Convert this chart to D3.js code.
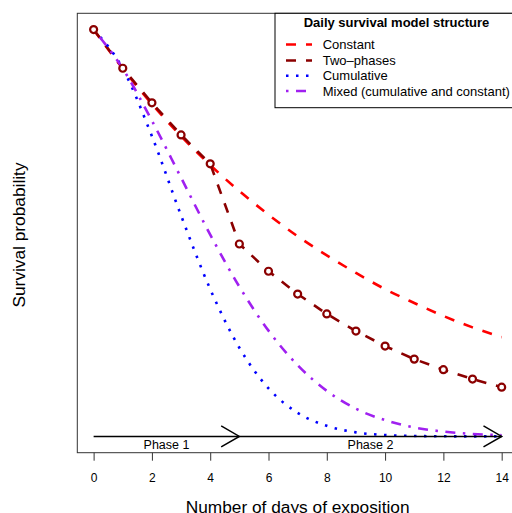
<!DOCTYPE html>
<html>
<head>
  <meta charset="utf-8">
  <title>Daily survival models</title>
  <script src="https://cdn.jsdelivr.net/npm/d3@7"></script>
  <style>
    body {margin: 0; background: #fff;}
    svg  {font-family: "Liberation Sans", Arial, sans-serif; display: block;}
  </style>
</head>
<body>
  <svg id="chart" width="512" height="513"></svg>

  <script>
    // values (survival probability per day)
    var days = [0, 1, 2, 3, 4, 5, 6, 7, 8, 9, 10, 11, 12, 13, 14];
    var constant   = [1, 0.904, 0.817, 0.738, 0.667, 0.603, 0.545, 0.492, 0.445, 0.402, 0.362, 0.328, 0.296, 0.268, 0.244];
    var twoPhases  = [1, 0.905, 0.820, 0.741, 0.670, 0.473, 0.406, 0.350, 0.301, 0.259, 0.222, 0.190, 0.164, 0.141, 0.121];
    var cumulative = [1, 0.904, 0.738, 0.543, 0.362, 0.218, 0.118, 0.058, 0.026, 0.010, 0.0035, 0.0011, 0.0003, 0.0001, 0];
    var mixed      = [1, 0.904, 0.776, 0.636, 0.496, 0.368, 0.260, 0.175, 0.112, 0.068, 0.040, 0.022, 0.012, 0.006, 0.003];
    var xTicks = [0, 2, 4, 6, 8, 10, 12, 14];
    var phases = [{label: "Phase 1", from: 0, to: 5}, {label: "Phase 2", from: 5, to: 14}];

    var series = [
      {name: "Constant", values: constant, color: "#FF0000", dash: "10,10"},
      {name: "Two\u2013phases", values: twoPhases, color: "#8B0000", dash: "10,10", linear: true},
      {name: "Cumulative", values: cumulative, color: "#0000FF", dash: "2.5,7.5"},
      {name: "Mixed (cumulative and constant)", values: mixed, color: "#A020F0", dash: "2.5,7.5,10,7.5"}
    ];

    var svg = d3.select("#chart");

    // plot box (right side runs past the window, like the original)
    var box = {left: 77.3, right: 518, top: 13.3, bottom: 452.7};

    // R style 4% padding on both axes
    var x = d3.scaleLinear().domain([-0.56, 14.56]).range([box.left, box.right]);
    var y = d3.scaleLinear().domain([-0.04, 1.04]).range([box.bottom, box.top]);

    var smooth = d3.line()
      .x((d, i) => x(days[i]))
      .y(d => y(d))
      .curve(d3.curveMonotoneX);
    var straight = d3.line()
      .x((d, i) => x(days[i]))
      .y(d => y(d));

    series.forEach(function(s) {
      svg.append("path")
        .attr("d", (s.linear ? straight : smooth)(s.values))
        .attr("fill", "none")
        .attr("stroke", s.color)
        .attr("stroke-width", 2.6)
        .attr("stroke-dasharray", s.dash);
    });

    // points of the two-phases model
    svg.selectAll("circle.pt")
      .data(twoPhases)
      .join("circle")
      .attr("class", "pt")
      .attr("cx", (d, i) => x(days[i]))
      .attr("cy", d => y(d))
      .attr("r", 3.5)
      .attr("fill", "#fff")
      .attr("stroke", "#8B0000")
      .attr("stroke-width", 2.2);

    // phase arrows along y = 0
    phases.forEach(function(p) {
      var x0 = x(p.from), x1 = x(p.to), yy = y(0);
      var len = 21, ang = Math.PI / 6;
      svg.append("line")
        .attr("x1", x0).attr("x2", x1).attr("y1", yy).attr("y2", yy)
        .attr("stroke", "#000").attr("stroke-width", 1.5);
      svg.append("path")
        .attr("d", "M" + (x1 - len * Math.cos(ang)) + "," + (yy - len * Math.sin(ang)) +
                   "L" + x1 + "," + yy +
                   "L" + (x1 - len * Math.cos(ang)) + "," + (yy + len * Math.sin(ang)))
        .attr("fill", "none").attr("stroke", "#000").attr("stroke-width", 1.5);
      svg.append("text")
        .attr("x", x((p.from + p.to) / 2))
        .attr("y", 449)
        .attr("text-anchor", "middle")
        .attr("font-size", 12.5)
        .text(p.label);
    });

    // box
    svg.append("rect")
      .attr("x", box.left).attr("y", box.top)
      .attr("width", box.right - box.left).attr("height", box.bottom - box.top)
      .attr("fill", "none").attr("stroke", "#333").attr("stroke-width", 1);

    // x axis: ticks and labels only, the box gives the line
    var xAxis = svg.append("g")
      .attr("transform", "translate(0," + box.bottom + ")")
      .call(d3.axisBottom(x).tickValues(xTicks).tickSize(8).tickPadding(13).tickFormat(d3.format("d")));
    xAxis.select(".domain").remove();
    xAxis.selectAll("line").attr("stroke", "#333");
    xAxis.selectAll("text").attr("font-size", 12).attr("font-family", "Liberation Sans, Arial, sans-serif").attr("fill", "#000");

    // axis titles
    svg.append("text")
      .attr("x", (box.left + box.right) / 2)
      .attr("y", 512.5)
      .attr("text-anchor", "middle")
      .attr("font-size", 17.3)
      .text("Number of days of exposition");

    svg.append("text")
      .attr("transform", "translate(25," + ((box.top + box.bottom) / 2 + 2) + ") rotate(-90)")
      .attr("text-anchor", "middle")
      .attr("font-size", 17.3)
      .text("Survival probability");

    // legend
    var leg = {left: 275, top: box.top, bottom: 107.7};
    svg.append("rect")
      .attr("x", leg.left).attr("y", leg.top)
      .attr("width", box.right - leg.left).attr("height", leg.bottom - leg.top)
      .attr("fill", "#fff").attr("stroke", "#000").attr("stroke-width", 1);

    svg.append("text")
      .attr("x", (leg.left + box.right) / 2)
      .attr("y", 26.5)
      .attr("text-anchor", "middle")
      .attr("font-size", 13)
      .attr("font-weight", "bold")
      .text("Daily survival model structure");

    var rowY = [44.5, 60.5, 75.7, 91];
    series.forEach(function(s, i) {
      svg.append("line")
        .attr("x1", 286).attr("x2", 312)
        .attr("y1", rowY[i]).attr("y2", rowY[i])
        .attr("stroke", s.color)
        .attr("stroke-width", 2.6)
        .attr("stroke-dasharray", s.dash);
      svg.append("text")
        .attr("x", 322.7)
        .attr("y", rowY[i] + 4.6)
        .attr("font-size", 13)
        .text(s.name);
    });
  </script>
</body>
</html>
